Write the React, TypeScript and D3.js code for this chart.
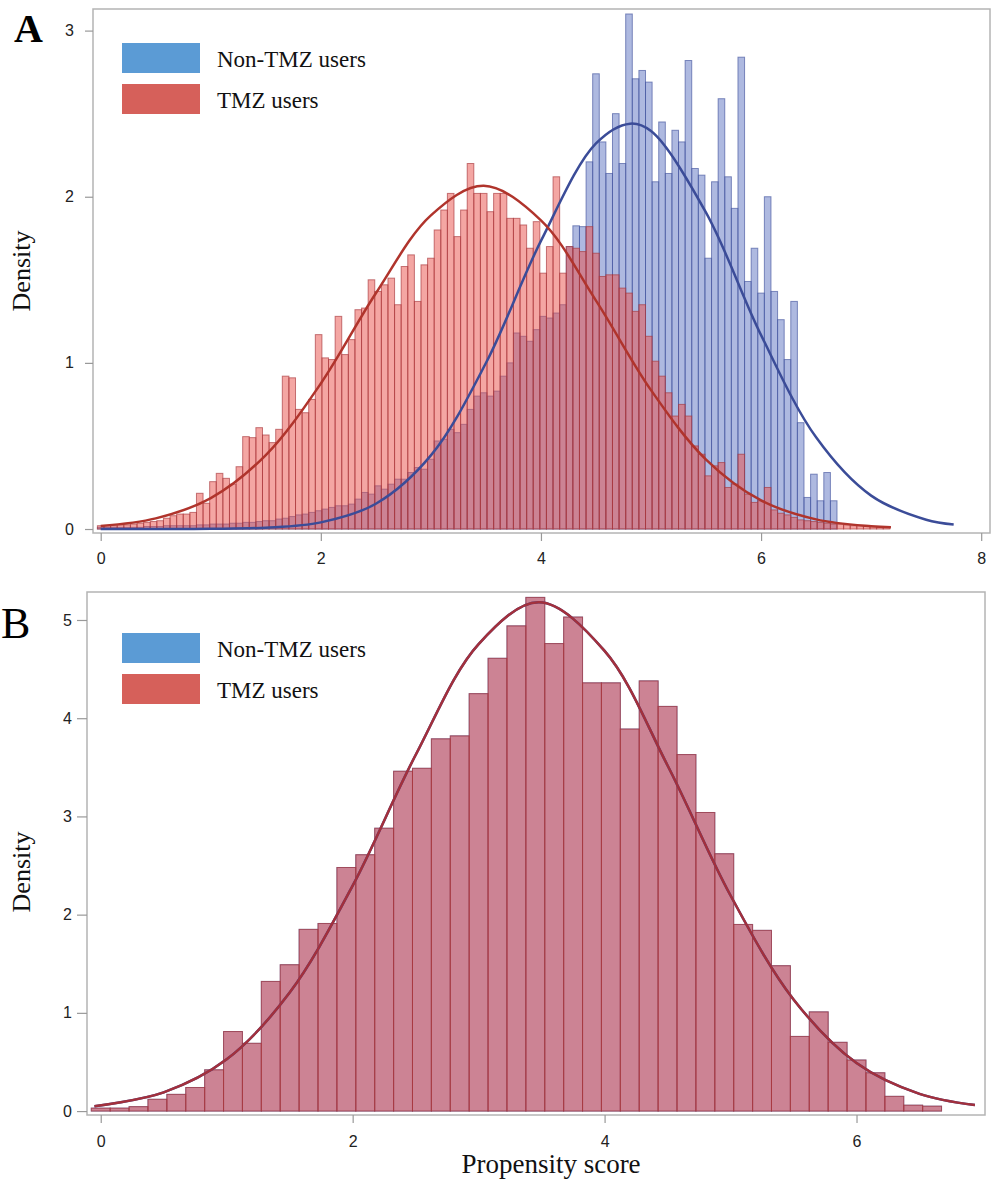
import React, { useEffect, useRef } from "react";
import * as d3 from "d3";

// Panel A: bin width 0.06, bins centred on k * 0.06
const binWidthA = 0.06;
const tmzDensityA = [
  0.02, 0.02, 0.02, 0.025, 0.025, 0.03, 0.035, 0.04, 0.045, 0.05,
  0.065, 0.08, 0.09, 0.09, 0.1, 0.215, 0.155, 0.285, 0.335, 0.305,
  0.27, 0.375, 0.556, 0.55, 0.61, 0.566, 0.52, 0.6, 0.92, 0.91,
  0.72, 0.7, 0.78, 1.17, 1.03, 1.02, 1.28, 1.05, 1.14, 1.32,
  1.33, 1.5, 1.43, 1.47, 1.51, 1.35, 1.58, 1.65, 1.37, 1.59,
  1.63, 1.8, 1.92, 2.02, 1.76, 1.92, 2.2, 2.02, 2.02, 1.91,
  2.02, 2.02, 1.87, 1.87, 1.83, 1.69, 1.85, 1.54, 1.7, 2.12,
  1.54, 1.7, 1.69, 1.67, 1.82, 1.66, 1.52, 1.53, 1.53, 1.45,
  1.42, 1.31, 1.35, 1.16, 1.01, 0.92, 0.82, 0.68, 0.75, 0.68,
  0.5, 0.45, 0.32, 0.38, 0.4, 0.25, 0.27, 0.45, 0.21, 0.16,
  0.17, 0.25, 0.115, 0.095, 0.085, 0.07, 0.055, 0.05, 0.045, 0.04,
  0.035, 0.03, 0.03, 0.025, 0.02, 0.02, 0.015, 0.015, 0.01, 0.01,
];
const nonTmzDensityA = [
  0.01, 0.01, 0.01, 0.01, 0.01, 0.01, 0.01, 0.015, 0.015, 0.015,
  0.02, 0.02, 0.02, 0.02, 0.02, 0.025, 0.025, 0.03, 0.03, 0.03,
  0.035, 0.035, 0.04, 0.04, 0.045, 0.05, 0.05, 0.06, 0.065, 0.075,
  0.085, 0.09, 0.1, 0.11, 0.12, 0.13, 0.14, 0.14, 0.15, 0.18,
  0.22, 0.21, 0.26, 0.24, 0.27, 0.3, 0.3, 0.34, 0.37, 0.36,
  0.42, 0.53, 0.54, 0.6, 0.58, 0.63, 0.72, 0.8, 0.82, 0.8,
  0.83, 0.92, 1.0, 1.18, 1.16, 1.13, 1.2, 1.28, 1.27, 1.3,
  1.35, 1.7, 1.825, 1.82, 2.21, 2.74, 2.33, 2.14, 2.5, 2.2,
  3.1, 2.71, 2.76, 2.69, 2.09, 2.45, 2.14, 2.4, 2.33, 2.82,
  2.17, 2.13, 1.63, 2.09, 2.59, 2.12, 1.93, 2.84, 1.49, 1.69,
  1.42, 2.0, 1.43, 1.26, 1.02, 1.37, 0.64, 0.19, 0.33, 0.17,
  0.34, 0.17,
];
// fitted density curves as [score, density]
const tmzCurveA = [
  [0, 0.018], [0.5, 0.064], [1, 0.186], [1.5, 0.445], [2, 0.876],
  [2.5, 1.419], [3, 1.888], [3.48, 2.066], [4, 1.858], [4.5, 1.375],
  [5, 0.836], [5.5, 0.418], [6, 0.172], [6.5, 0.058], [7, 0.016], [7.18, 0.01],
];
const nonTmzCurveA = [
  [0, 0.0], [0.5, 0.0002], [1, 0.0013], [1.5, 0.008], [2, 0.04],
  [2.5, 0.152], [3, 0.443], [3.5, 0.999], [4, 1.734], [4.5, 2.321],
  [4.81, 2.44], [5, 2.395], [5.5, 1.904], [6, 1.167], [6.5, 0.552],
  [7, 0.201], [7.5, 0.056], [7.75, 0.027],
];

// Panel B (matched): bin width 0.15, both groups coincide
const binWidthB = 0.15;
const matchedDensityB = [
  0.03, 0.03, 0.045, 0.12, 0.17, 0.24, 0.42, 0.81, 0.69, 1.32,
  1.49, 1.85, 1.91, 2.48, 2.61, 2.88, 3.46, 3.49, 3.79, 3.82,
  4.25, 4.61, 4.94, 5.23, 4.76, 5.03, 4.36, 4.36, 3.89, 4.38,
  4.12, 3.63, 3.04, 2.62, 1.9, 1.84, 1.48, 0.76, 1.01, 0.7,
  0.52, 0.39, 0.15, 0.06, 0.05,
];
const matchedCurveB = [
  [-0.05, 0.05], [0.5, 0.191], [1, 0.527], [1.5, 1.207], [2, 2.295],
  [2.5, 3.625], [3, 4.755], [3.48, 5.18], [4, 4.685], [4.5, 3.519],
  [5, 2.195], [5.5, 1.137], [6, 0.489], [6.5, 0.175], [6.94, 0.061],
];

const xTicksA = [0, 2, 4, 6, 8];
const yTicksA = [0, 1, 2, 3];
const xTicksB = [0, 2, 4, 6];
const yTicksB = [0, 1, 2, 3, 4, 5];
const legendLabels = ["Non-TMZ users", "TMZ users"];

const serif = "'Liberation Serif', 'Times New Roman', serif";
const sans = "'Liberation Sans', Arial, sans-serif";

const App = () => {
  const svgRef = useRef(null);
  const width = 992;
  const height = 1185;

  useEffect(() => {
    const svg = d3.select(svgRef.current);
    svg.selectAll("*").remove();

    const drawPanel = (p) => {
      const g = svg.append("g");
      const x = d3.scaleLinear().domain(p.xDomain).range([p.left, p.right]);
      const y = d3.scaleLinear().domain(p.yDomain).range([p.bottom, p.top]);

      // histograms: blue first, red on top (both semi-transparent)
      const drawBars = (values, bw, fill, stroke) => {
        g.append("g")
          .selectAll("rect")
          .data(values)
          .enter()
          .append("rect")
          .attr("x", (d, i) => x(i * bw - bw / 2))
          .attr("width", x(bw) - x(0))
          .attr("y", (d) => y(d))
          .attr("height", (d) => y(0) - y(d))
          .attr("fill", fill)
          .attr("fill-opacity", 0.5)
          .attr("stroke", stroke)
          .attr("stroke-opacity", 0.65)
          .attr("stroke-width", 1);
      };
      drawBars(p.blue, p.bw, "#5d73c1", "#44549e");
      drawBars(p.red, p.bw, "#e94d47", "#a8363a");

      const line = d3
        .line()
        .x((d) => x(d[0]))
        .y((d) => y(d[1]))
        .curve(d3.curveCatmullRom.alpha(0.5));
      g.append("path")
        .attr("d", line(p.blueCurve))
        .attr("fill", "none")
        .attr("stroke", "#3b4c98")
        .attr("stroke-width", 2.5);
      g.append("path")
        .attr("d", line(p.redCurve))
        .attr("fill", "none")
        .attr("stroke", p.redCurveColor)
        .attr("stroke-width", 2.5);

      // frame
      g.append("rect")
        .attr("x", p.left)
        .attr("y", p.top)
        .attr("width", p.right - p.left)
        .attr("height", p.bottom - p.top)
        .attr("fill", "none")
        .attr("stroke", "#b4b4b4")
        .attr("stroke-width", 1.5);

      const xAxis = g
        .append("g")
        .attr("transform", `translate(0,${p.bottom})`)
        .call(
          d3.axisBottom(x).tickValues(p.xTicks).tickSize(8).tickPadding(p.xPad).tickFormat(d3.format("d"))
        );
      const yAxis = g
        .append("g")
        .attr("transform", `translate(${p.left},0)`)
        .call(
          d3.axisLeft(y).tickValues(p.yTicks).tickSize(p.yTick).tickPadding(p.yPad).tickFormat(d3.format("d"))
        );
      [xAxis, yAxis].forEach((a) => {
        a.select(".domain").remove();
        a.selectAll(".tick line").attr("stroke", "#999").attr("stroke-width", 1.2);
        a.selectAll(".tick text")
          .attr("fill", "#222")
          .style("font-family", sans)
          .style("font-size", "16px");
      });

      // legend
      const colors = ["#5b9bd5", "#d6605a"];
      legendLabels.forEach((label, i) => {
        g.append("rect")
          .attr("x", 122)
          .attr("y", p.legendTop + i * 41)
          .attr("width", 78)
          .attr("height", 30)
          .attr("fill", colors[i]);
        g.append("text")
          .attr("x", 217)
          .attr("y", p.legendTop + 24 + i * 41)
          .style("font-family", serif)
          .style("font-size", "23px")
          .attr("fill", "#111")
          .text(label);
      });

      // y label
      g.append("text")
        .attr("transform", `translate(30,${p.yLabelY}) rotate(-90)`)
        .attr("text-anchor", "middle")
        .style("font-family", serif)
        .style("font-size", "26px")
        .attr("fill", "#111")
        .text("Density");

      // panel letter
      g.append("text")
        .attr("x", p.letterX)
        .attr("y", p.letterY)
        .style("font-family", serif)
        .style("font-size", p.letterSize)
        .style("font-weight", p.letterWeight)
        .attr("fill", "#000")
        .text(p.letter);
    };

    drawPanel({
      left: 93, right: 990, top: 9, bottom: 533,
      xDomain: [-0.07, 8.08], yDomain: [-0.024, 3.13],
      bw: binWidthA, red: tmzDensityA, blue: nonTmzDensityA,
      redCurve: tmzCurveA, blueCurve: nonTmzCurveA, redCurveColor: "#b0342c",
      xTicks: xTicksA, yTicks: yTicksA, xPad: 12, yTick: 8, yPad: 11,
      legendTop: 43, yLabelY: 271,
      letter: "A", letterX: 14, letterY: 42, letterSize: "40px", letterWeight: "bold",
    });

    drawPanel({
      left: 87, right: 985, top: 592, bottom: 1115,
      xDomain: [-0.109, 7.02], yDomain: [-0.04, 5.285],
      bw: binWidthB, red: matchedDensityB, blue: matchedDensityB,
      redCurve: matchedCurveB, blueCurve: matchedCurveB, redCurveColor: "#a3303c",
      xTicks: xTicksB, yTicks: yTicksB, xPad: 13, yTick: 10, yPad: 5,
      legendTop: 633, yLabelY: 872,
      letter: "B", letterX: 1, letterY: 638, letterSize: "44px", letterWeight: "normal",
    });

    svg
      .append("text")
      .attr("x", 551)
      .attr("y", 1173)
      .attr("text-anchor", "middle")
      .style("font-family", serif)
      .style("font-size", "27px")
      .attr("fill", "#111")
      .text("Propensity score");
  }, []);

  return (
    <svg
      ref={svgRef}
      width={width}
      height={height}
      style={{ position: "absolute", left: 0, top: 0, background: "#fff" }}
    ></svg>
  );
};

export default App;
